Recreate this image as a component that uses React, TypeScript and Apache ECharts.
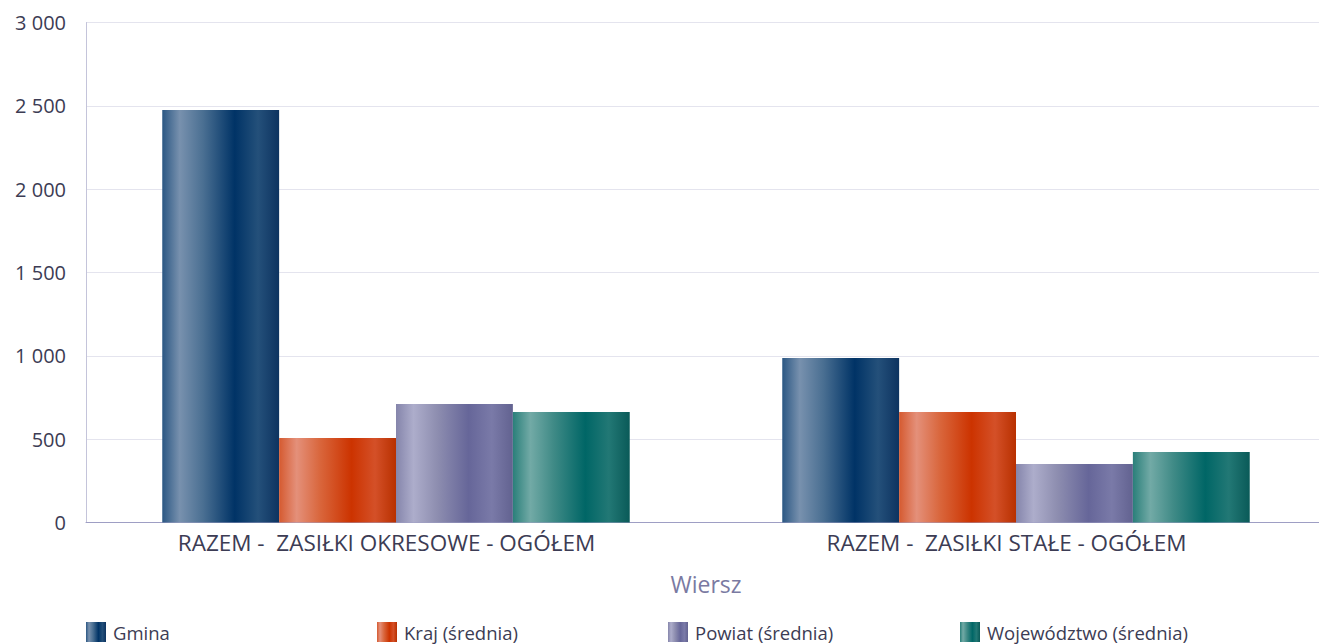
import React, { useEffect, useRef } from "react";
import * as echarts from "echarts";

const categories = ["RAZEM -  ZASIŁKI OKRESOWE - OGÓŁEM", "RAZEM -  ZASIŁKI STAŁE - OGÓŁEM"];
const seriesNames = ["Gmina", "Kraj (średnia)", "Powiat (średnia)", "Województwo (średnia)"];
const gmina = [2475, 987];
const kraj = [507, 663];
const powiat = [711, 351];
const wojewodztwo = [663, 423];
const yTicks = [0, 500, 1000, 1500, 2000, 2500, 3000];
const axisName = "Wiersz";

const gradStops: string[][] = [
  ["#2b5783", "#7891ae", "#4a6f92", "#003366", "#24507a", "#0d3360"],
  ["#d55a30", "#e4907a", "#d9663c", "#cc3300", "#d45028", "#b83000"],
  ["#8585ab", "#adadcb", "#8e8eb0", "#666699", "#7a7aa8", "#626290"],
  ["#2a7f7a", "#72aaa6", "#3f8a86", "#006666", "#227875", "#0a5a58"],
];
const stopPos = [0, 0.15, 0.35, 0.62, 0.82, 1];

function grad(i: number) {
  return new echarts.graphic.LinearGradient(
    0, 0, 1, 0,
    stopPos.map((p, k) => ({ offset: p, color: gradStops[i][k] }))
  );
}

const FONT = "Open Sans";
const TEXT = "#3c3c54";

export default function App() {
  const ref = useRef<HTMLDivElement>(null);
  useEffect(() => {
    if (!ref.current) return;
    const chart = echarts.init(ref.current, null, { renderer: "svg" });
    const data = [gmina, kraj, powiat, wojewodztwo];
    const legendLefts = [86, 377, 668, 960];
    chart.setOption({
      animation: false,
      textStyle: { fontFamily: FONT },
      grid: { left: 86, top: 22.5, width: 1240, height: 500, containLabel: false },
      legend: seriesNames.map((n, i) => ({
        data: [n],
        left: legendLefts[i],
        top: 622,
        icon: "rect",
        itemWidth: 20,
        itemHeight: 20,
        itemGap: 4,
        padding: 0,
        textStyle: { fontFamily: FONT, fontSize: 18.5, color: TEXT, padding: [0, 0, 0, 2] },
        selectedMode: false,
      })),
      xAxis: {
        type: "category",
        data: categories,
        name: axisName,
        nameLocation: "middle",
        nameGap: 50,
        nameTextStyle: { fontFamily: FONT, fontSize: 23, color: "#7a7aa2", verticalAlign: "top" },
        axisLine: { show: true, lineStyle: { color: "#9e9ec4", width: 1 } },
        axisTick: { show: false },
        axisLabel: { fontFamily: FONT, fontSize: 22.5, color: TEXT, margin: 8, padding: [0, 19, 0, 0] },
      },
      yAxis: {
        type: "value",
        min: yTicks[0],
        max: yTicks[yTicks.length - 1],
        interval: 500,
        axisLine: { show: true, lineStyle: { color: "#c4c4da", width: 1 } },
        axisTick: { show: false },
        splitLine: { lineStyle: { color: "#e4e4ee", width: 1 } },
        axisLabel: {
          fontFamily: FONT,
          fontSize: 20,
          color: TEXT,
          margin: 20,
          formatter: (v: number) => String(v).replace(/\B(?=(\d{3})+(?!\d))/g, " "),
        },
      },
      series: seriesNames.map((n, i) => ({
        name: n,
        type: "bar",
        data: data[i],
        barGap: "0%",
        barCategoryGap: "24.6%",
        itemStyle: { color: grad(i) },
      })),
    });
    return () => chart.dispose();
  }, []);
  return (
    <div style={{ position: "fixed", left: 0, top: 0, width: 1319, height: 644, overflow: "hidden", background: "#fff" }}>
      <div ref={ref} style={{ width: 1340, height: 644 }} />
    </div>
  );
}
